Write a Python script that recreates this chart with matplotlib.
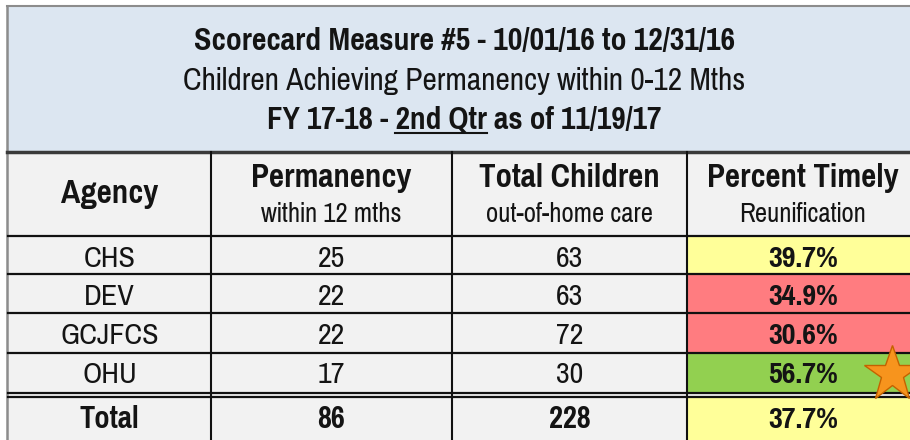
import matplotlib
matplotlib.use("Agg")
import matplotlib.pyplot as plt
from matplotlib import font_manager
from matplotlib.font_manager import FontProperties
from matplotlib.textpath import TextPath
from matplotlib.patches import Rectangle

# table data
agencies = ['CHS', 'DEV', 'GCJFCS', 'OHU']
permanency = [25, 22, 22, 17]
total_children = [63, 63, 72, 30]
percent_timely = [39.7, 34.9, 30.6, 56.7]
total_row = ['Total', 86, 228, 37.7]
title_lines = ['Scorecard Measure #5 - 10/01/16 to 12/31/16',
               'Children Achieving Permanency within 0-12 Mths',
               'FY 17-18 - 2nd Qtr as of 11/19/17']
headers = ['Agency', 'Permanency', 'Total Children', 'Percent Timely']
subheaders = ['', 'within 12 mths', 'out-of-home care', 'Reunification']

# pick the narrow font whose proportions are closest to the reference (Arial Narrow look)
names = {f.name for f in font_manager.fontManager.ttflist}
candidates = ['Archivo Narrow', 'PT Sans Narrow', 'Pragati Narrow', 'Roboto Condensed',
              'Fira Sans Condensed', 'IBM Plex Sans Condensed', 'Open Sans Condensed',
              'Barlow Semi Condensed']


def ratio(fam):
    fp = FontProperties(family=fam, weight='bold')
    w = TextPath((0, 0), title_lines[0], size=20, prop=fp).get_extents().width
    h = TextPath((0, 0), 'H', size=20, prop=fp).get_extents().height
    return w / h


avail = [c for c in candidates if c in names]
FONT = min(avail, key=lambda c: abs(ratio(c) - 24.6)) if avail else 'Liberation Sans'
plt.rcParams['font.family'] = [FONT, 'DejaVu Sans']

YELLOW, RED, GREEN = '#ffff99', '#ff7c80', '#92d050'
CELL_BG = '#f2f2f2'
TXT = '#141414'


def pct_color(p):
    if p >= 50:
        return GREEN
    if p >= 35:
        return YELLOW
    return RED


fig = plt.figure(figsize=(9.1, 4.4), dpi=100)
ax = fig.add_axes([0, 0, 1, 1])
ax.set_xlim(0, 910)
ax.set_ylim(440, 0)
ax.axis('off')
fig.canvas.draw()
r = fig.canvas.get_renderer()


def width_of(s, size=20, weight='normal'):
    t = ax.text(0, 0, s, fontsize=size, fontweight=weight)
    w = t.get_window_extent(r).width
    t.remove()
    return w


def fit(s, target, weight='normal'):
    # font size so that s is about target px wide
    return 20 * target / width_of(s, 20, weight)


fs_t1 = fit(title_lines[0], 542, 'bold')
fs_t2 = fit(title_lines[1], 562)
fs_t3 = fit(title_lines[2], 395, 'bold')
fs_hdr = fit('Percent Timely', 191, 'bold')
fs_sub = fit('out-of-home care', 167)
fs_body = fit('GCJFCS', 98)
fs_pct = fit('39.7%', 70, 'bold')
fs_tot = fit('Total', 60, 'bold')

xs = [8, 211, 452, 687, 920]
centers = [(xs[i] + xs[i + 1]) / 2 for i in range(4)]
centers[3] = 803

# title band
ax.add_patch(Rectangle((7, 7), 910, 145, facecolor='#dce6f1', edgecolor='none'))
ax.plot([7, 910], [6.5, 6.5], color='#8c8c8c', lw=1.5)
ax.plot([7, 7], [6, 440], color='#8c8c8c', lw=1.8)
title_base = [50, 90, 129]
title_fs = [fs_t1, fs_t2, fs_t3]
for i, line in enumerate(title_lines):
    ax.text(464, title_base[i], line, ha='center', va='baseline', fontsize=title_fs[i],
            fontweight='bold' if i != 1 else 'normal', color=TXT)

# underline "2nd Qtr"
full = width_of(title_lines[2], fs_t3, 'bold')
pre = width_of('FY 17-18 - ', fs_t3, 'bold')
mid = width_of('FY 17-18 - 2nd Qtr', fs_t3, 'bold')
x0 = 464 - full / 2
ax.plot([x0 + pre, x0 + mid], [133, 133], color=TXT, lw=1.5)

# header + body background
ax.add_patch(Rectangle((8, 152), 912, 288, facecolor=CELL_BG, edgecolor='none'))
ax.plot([7, 910], [152, 152], color='#3a3a3a', lw=2.5)

# header texts
ax.text(centers[0], 203, headers[0], ha='center', va='baseline', fontsize=fs_hdr, fontweight='bold', color=TXT)
for j in range(1, 4):
    ax.text(centers[j], 187, headers[j], ha='center', va='baseline', fontsize=fs_hdr, fontweight='bold', color=TXT)
    ax.text(centers[j], 222, subheaders[j], ha='center', va='baseline', fontsize=fs_sub, color=TXT)

# body rows
row_edges = [236, 274, 313, 353, 393]
row_base = [267, 305, 344, 383]
for i in range(4):
    top, bot = row_edges[i], row_edges[i + 1]
    ax.add_patch(Rectangle((xs[3], top), xs[4] - xs[3], bot - top,
                           facecolor=pct_color(percent_timely[i]), edgecolor='none'))
    yb = row_base[i]
    ax.text(centers[0], yb, agencies[i], ha='center', va='baseline', fontsize=fs_body, color=TXT)
    ax.text(centers[1], yb, str(permanency[i]), ha='center', va='baseline', fontsize=fs_body, color=TXT)
    ax.text(centers[2], yb, str(total_children[i]), ha='center', va='baseline', fontsize=fs_body, color=TXT)
    ax.text(centers[3], yb, f'{percent_timely[i]:.1f}%', ha='center', va='baseline',
            fontsize=fs_pct, fontweight='bold', color=TXT)

# total row
ax.add_patch(Rectangle((xs[3], 397), xs[4] - xs[3], 43, facecolor=pct_color(total_row[3]), edgecolor='none'))
yb = 428
ax.text(centers[0], yb, total_row[0], ha='center', va='baseline', fontsize=fs_tot, fontweight='bold', color=TXT)
ax.text(centers[1], yb, str(total_row[1]), ha='center', va='baseline', fontsize=fs_tot, fontweight='bold', color=TXT)
ax.text(centers[2], yb, str(total_row[2]), ha='center', va='baseline', fontsize=fs_tot, fontweight='bold', color=TXT)
ax.text(centers[3], yb, f'{total_row[3]:.1f}%', ha='center', va='baseline', fontsize=fs_pct, fontweight='bold', color=TXT)

# grid lines
for y in row_edges:
    ax.plot([8, 910], [y, y], color='#111111', lw=1.6)
ax.plot([8, 910], [397, 397], color='#111111', lw=1.6)
for x in xs[1:4]:
    ax.plot([x, x], [152, 440], color='#111111', lw=1.5)

# star on best performer
best = percent_timely.index(max(percent_timely))
ax.plot([892], [374], marker='*', markersize=42,
        color='#f7941d', markeredgecolor='#c46200', markeredgewidth=1, zorder=5)

fig.savefig('out.png', dpi=100)
